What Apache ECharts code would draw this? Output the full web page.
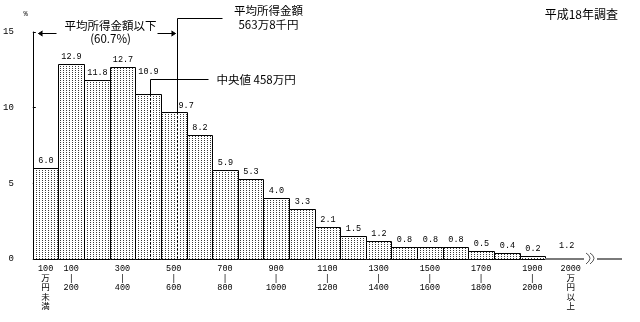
<!DOCTYPE html>
<html>
<head>
<meta charset="utf-8">
<script src="https://cdn.jsdelivr.net/npm/echarts@6/dist/echarts.min.js"></script>
<style>
html,body{margin:0;padding:0;background:#fff;}
#chart{width:640px;height:322px;}
</style>
</head>
<body>
<div id="chart"></div>
<script>
// 所得金額階級（万円）の下限。最後の階級（2000万円以上）は上限なし
const classLower = [0, 100, 200, 300, 400, 500, 600, 700, 800, 900, 1000,
  1100, 1200, 1300, 1400, 1500, 1600, 1700, 1800, 1900, 2000];
// 各階級の世帯数の相対度数（%）
const shares = [6.0, 12.9, 11.8, 12.7, 10.9, 9.7, 8.2, 5.9, 5.3, 4.0, 3.3,
  2.1, 1.5, 1.2, 0.8, 0.8, 0.8, 0.5, 0.4, 0.2, 1.2];
// 階級ラベル（空文字は表示しない）
const classLabels = ['100\n万\n円\n未\n満', '100\n|\n200', '', '300\n|\n400', '',
  '500\n|\n600', '', '700\n|\n800', '', '900\n|\n1000', '', '1100\n|\n1200', '',
  '1300\n|\n1400', '', '1500\n|\n1600', '', '1700\n|\n1800', '', '1900\n|\n2000',
  '2000\n万\n円\n以\n上'];
const yTicks = [0, 5, 10, 15];
const meanIncome = 563.8;     // 平均所得金額（万円）
const medianIncome = 458;     // 中央値（万円）
const belowMeanShare = 60.7;  // 平均所得金額以下の割合（%）
const surveyTitle = '平成18年調査';

const CLASS_WIDTH = 100;
const X_MAX = 2300;
const openIndex = classLower.length - 1;

const JP = '"Noto Sans CJK JP", sans-serif';
const NUM = '"Liberation Mono", "Noto Sans CJK JP", monospace';

// 網掛けの点描パターン
function stipple() {
  const c = document.createElement('canvas');
  c.width = 3; c.height = 2;
  const g = c.getContext('2d');
  g.fillStyle = '#fff';
  g.fillRect(0, 0, 3, 2);
  g.fillStyle = '#3a3a3a';
  g.fillRect(0, 0, 1, 1);
  return c;
}
const pattern = { image: stipple(), repeat: 'repeat' };

function labelPos(i) {
  return i === openIndex ? classLower[i] + CLASS_WIDTH : classLower[i] + CLASS_WIDTH / 2;
}
const labelValues = [];
const labelText = {};
classLabels.forEach((t, i) => {
  if (t) { labelValues.push(labelPos(i)); labelText[labelPos(i)] = t; }
});

const crisp = v => Math.round(v) + 0.5;
const inClass = (lo, v) => v >= lo && v < lo + CLASS_WIDTH;
const MEDIAN_LEADER_GAP = 14;

function renderBar(params, api) {
  const i = params.dataIndex;
  const lo = api.value(0), v = api.value(1);
  const base = api.coord([lo, 0]);
  const font = '8.5px ' + NUM;
  if (i === openIndex) {
    // 上限のない階級は基線上の帯として描く
    const end = api.coord([X_MAX, 0]);
    const x0 = Math.round(base[0]), y = Math.round(base[1]);
    const bx = x0 + 41;
    const lab = api.coord([labelPos(i), v]);
    return {
      type: 'group',
      children: [
        { type: 'line', shape: { x1: x0, y1: y, x2: bx - 2, y2: y }, style: { stroke: '#7a7a7a', lineWidth: 2 } },
        { type: 'line', shape: { x1: bx + 11, y1: y, x2: end[0], y2: y }, style: { stroke: '#7a7a7a', lineWidth: 2 } },
        { type: 'bezierCurve', shape: { x1: bx, y1: y - 6, x2: bx, y2: y + 5, cpx1: bx + 8, cpy1: y - 1 }, style: { stroke: '#555', fill: null, lineWidth: 1 } },
        { type: 'bezierCurve', shape: { x1: bx + 4, y1: y - 6, x2: bx + 4, y2: y + 5, cpx1: bx + 12, cpy1: y - 1 }, style: { stroke: '#555', fill: null, lineWidth: 1 } },
        { type: 'text', style: { text: v.toFixed(1), x: lab[0] - 4, y: y - 9, align: 'center', verticalAlign: 'bottom', font: font, fill: '#000' } }
      ]
    };
  }
  const top = api.coord([lo, v]);
  const right = api.coord([lo + CLASS_WIDTH, 0]);
  const x = crisp(top[0]), yT = crisp(top[1]);
  const w = Math.round(right[0]) - Math.round(top[0]);
  const h = Math.round(base[1]) - Math.round(top[1]);
  // 数値ラベルは平均・中央値の線と重ならない位置に置く
  let lx = x + w / 2, ly = yT - 3, la = 'center', lv = 'bottom';
  if (inClass(lo, medianIncome)) {
    ly = Math.round(top[1]) - MEDIAN_LEADER_GAP - 4;
  } else if (inClass(lo, meanIncome)) {
    lx = crisp(api.coord([meanIncome, 0])[0]) + 1;
    la = 'left';
    ly = yT - 2;
  }
  return {
    type: 'group',
    children: [
      { type: 'rect', shape: { x: x, y: yT, width: w, height: h }, style: { fill: pattern, stroke: '#000', lineWidth: 1 } },
      { type: 'text', style: { text: v.toFixed(1), x: lx, y: ly, align: la, verticalAlign: lv, font: font, fill: '#000' } }
    ]
  };
}

function classShare(value) {
  return shares[Math.min(Math.floor(value / CLASS_WIDTH), openIndex)];
}

function renderNotes(params, api) {
  const origin = api.coord([0, 0]);
  const top = api.coord([0, 15]);
  const xM = crisp(api.coord([meanIncome, 0])[0]);
  const xD = crisp(api.coord([medianIncome, 0])[0]);
  const base = origin[1];
  const mTop = api.coord([meanIncome, classShare(meanIncome)])[1];
  const dTop = api.coord([medianIncome, classShare(medianIncome)])[1];
  const yM = Math.round(top[1]) - 13.5;
  const yD = Math.round(dTop) - MEDIAN_LEADER_GAP - 0.5;
  const yA = Math.round(top[1]) + 1.5;
  const x0 = Math.round(origin[0]) + 0.5;
  const solid = { stroke: '#000', lineWidth: 1 };
  const dashed = { stroke: '#000', lineWidth: 1, lineDash: [2, 2] };
  const man = Math.floor(meanIncome);
  const sen = Math.round((meanIncome - man) * 10);
  const jp = sz => sz + 'px ' + JP;
  return {
    type: 'group',
    children: [
      // 平均所得金額
      { type: 'line', shape: { x1: xM, y1: yM, x2: xM, y2: mTop }, style: solid },
      { type: 'line', shape: { x1: xM, y1: mTop, x2: xM, y2: base }, style: dashed },
      { type: 'line', shape: { x1: xM, y1: yM, x2: xM + 45, y2: yM }, style: solid },
      { type: 'text', style: { text: '平均所得金額\n' + man + '万' + sen + '千円', x: xM + 91, y: yM - 0.5, align: 'center', verticalAlign: 'middle', lineHeight: 14, font: jp(11.5), fill: '#000' } },
      // 中央値
      { type: 'line', shape: { x1: xD, y1: yD, x2: xD, y2: dTop }, style: solid },
      { type: 'line', shape: { x1: xD, y1: dTop, x2: xD, y2: base }, style: dashed },
      { type: 'line', shape: { x1: xD, y1: yD, x2: xD + 58, y2: yD }, style: solid },
      { type: 'text', style: { text: '中央値 ' + medianIncome + '万円', x: xD + 66, y: yD, align: 'left', verticalAlign: 'middle', font: jp(11.5), fill: '#000' } },
      // 平均所得金額以下の範囲
      { type: 'line', shape: { x1: x0 + 5, y1: yA, x2: x0 + 23, y2: yA }, style: solid },
      { type: 'polyline', shape: { points: [[x0 + 9, yA - 2.5], [x0 + 5, yA], [x0 + 9, yA + 2.5]] }, style: solid },
      { type: 'line', shape: { x1: xM - 20, y1: yA, x2: xM - 2, y2: yA }, style: solid },
      { type: 'polyline', shape: { points: [[xM - 6, yA - 2.5], [xM - 2, yA], [xM - 6, yA + 2.5]] }, style: solid },
      { type: 'text', style: { text: '平均所得金額以下\n(' + belowMeanShare.toFixed(1) + '%)', x: (x0 + xM) / 2 + 5, y: yA - 1.5, align: 'center', verticalAlign: 'middle', lineHeight: 13, font: jp(11.5), fill: '#000' } }
    ]
  };
}

const chart = echarts.init(document.getElementById('chart'), null, { renderer: 'canvas' });
chart.setOption({
  animation: false,
  backgroundColor: '#fff',
  title: {
    text: surveyTitle, right: 17, top: 3,
    textStyle: { fontFamily: JP, fontSize: 12, fontWeight: 'normal', color: '#000' }
  },
  grid: { left: 32, right: 18, top: 32, bottom: 63, containLabel: false },
  xAxis: {
    type: 'value', min: 0, max: X_MAX,
    axisLine: { show: false }, axisTick: { show: false }, splitLine: { show: false },
    axisLabel: {
      customValues: labelValues,
      formatter: v => labelText[v] || '',
      margin: 5, fontFamily: NUM, fontSize: 8.5, lineHeight: 9.6, color: '#000'
    }
  },
  yAxis: {
    type: 'value', min: 0, max: 15, interval: 5,
    name: '%', nameLocation: 'end', nameGap: 14,
    nameTextStyle: { fontFamily: NUM, fontSize: 7, color: '#000', align: 'right', padding: [0, 5, 0, 0] },
    axisLine: { show: true, lineStyle: { color: '#000', width: 1 } },
    axisTick: { show: true, inside: true, length: 3, lineStyle: { color: '#000' }, customValues: yTicks },
    axisLabel: { margin: 19, fontFamily: NUM, fontSize: 9, color: '#000', customValues: yTicks },
    splitLine: { show: false }
  },
  series: [
    {
      type: 'custom', clip: false, silent: true,
      data: shares.map((v, i) => [classLower[i], v]),
      encode: { x: 0, y: 1 },
      renderItem: renderBar
    },
    {
      type: 'custom', clip: false, silent: true, z: 3,
      data: [[meanIncome, medianIncome]],
      renderItem: renderNotes
    }
  ]
});
</script>
</body>
</html>
